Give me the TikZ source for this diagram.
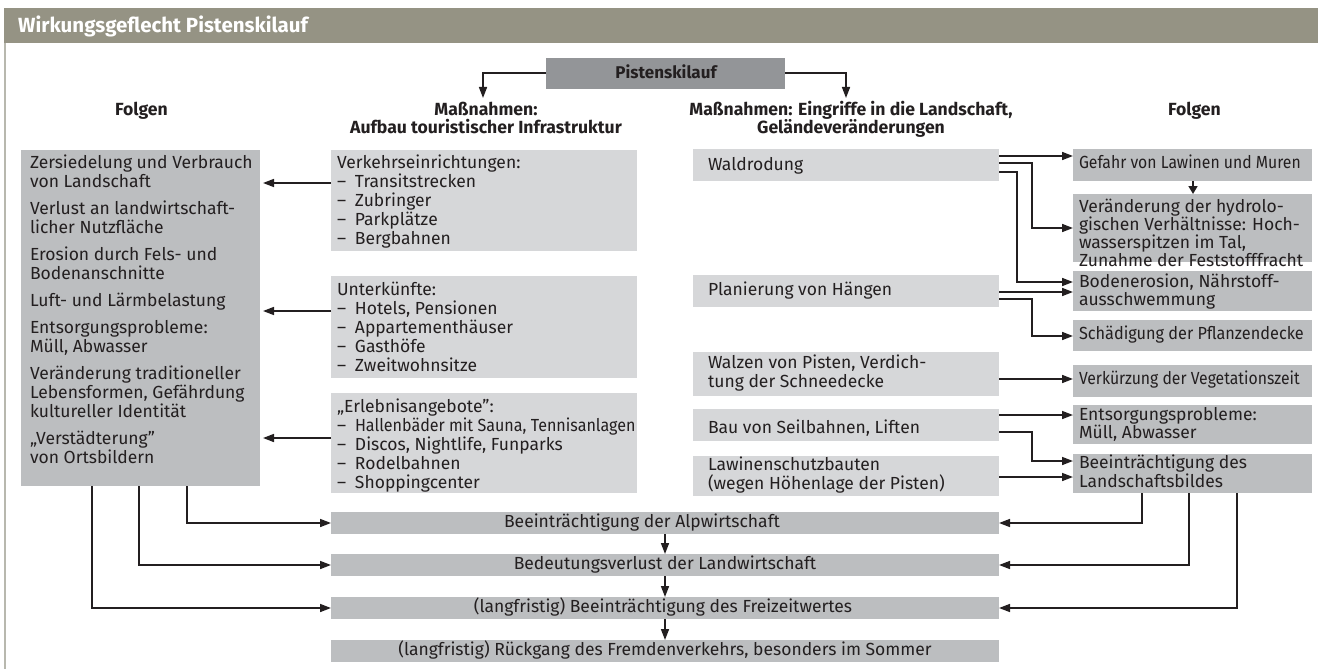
\documentclass[tikz,border=0pt]{standalone}
\usepackage{fontspec}
\setmainfont{Fira Sans}
\usetikzlibrary{arrows.meta}
\definecolor{ink}{HTML}{231F20}
\definecolor{hdr}{HTML}{959384}
\definecolor{psk}{HTML}{939598}
\definecolor{midg}{HTML}{BCBEC0}
\definecolor{liteg}{HTML}{D6D7D9}
\definecolor{framec}{HTML}{B8B8AE}
\newcommand\bodyf{\fontsize{17.5bp}{19bp}\selectfont}
\newcommand\headf{\bfseries\fontsize{17.6bp}{17bp}\selectfont}
\newcommand\psf{\bfseries\fontsize{17bp}{19bp}\selectfont}
\newcommand\titlef{\bfseries\fontsize{20.5bp}{24bp}\selectfont}
\newcommand\dsh{\makebox[18bp][l]{–}}
\tikzset{
 box/.style={inner sep=0, outer sep=0, anchor=north west, draw=none},
 sz/.style 2 args={minimum width=#1bp, minimum height=#2bp},
 dk/.style={box, fill=midg},
 lt/.style={box, fill=liteg},
 txt/.style={inner sep=0, outer sep=0, anchor=base west, text=ink, font=\bodyf},
 ctxt/.style={txt, anchor=base},
 headn/.style={inner sep=0, outer sep=0, anchor=base, text=ink, font=\headf},
 arr/.style={draw=ink, line width=1.6bp, -{Triangle[length=11bp,width=8bp]}},
}
\begin{document}
\begin{tikzpicture}[x=1bp,y=-1bp]
\useasboundingbox (0,0) rectangle (1318,669);
% header
\node[box, fill=hdr, sz={1314}{35}] (hd) at (4,8) {};
\draw[framec, line width=2bp] ([xshift=1bp]hd.south west) -- ([xshift=1bp]hd.south west |- 0,669);
\node[anchor=base west, inner sep=0, text=white, font=\titlef] (ttl) at (18,33) {Wirkungsgeflecht Pistenskilauf};
% top
\node[box, fill=psk, sz={239}{31}] (PS) at (546,58) {};
\node[headn, font=\psf] (PSt) at (666,79) {Pistenskilauf};
\coordinate (tl) at (483,98);
\coordinate (tr) at (846,98);
\draw[arr] (PS.west |- 0,73) -| (tl);
\draw[arr] (PS.east |- 0,73) -| (tr);
% headings
\node[headn] (h1) at (141.5,116) {Folgen};
\node[headn] (h2a) at (486,116) {Maßnahmen:};
\node[headn] (h2b) at (486,133) {Aufbau touristischer Infrastruktur};
\node[headn] (h3a) at (851,116) {Maßnahmen: Eingriffe in die Landschaft,};
\node[headn] (h3b) at (851,133) {Geländeveränderungen};
\node[headn] (h4) at (1194.5,116) {Folgen};
% boxes
\node[dk, sz={239}{336}] (L) at (21,150) {};
\node[lt, sz={306}{101}] (M1) at (331,150) {};
\node[lt, sz={306}{102}] (M2) at (331,276) {};
\node[lt, sz={306}{100}] (M3) at (331,393) {};
\node[lt, sz={306}{32}] (W) at (693,149) {};
\node[lt, sz={306}{32}] (P) at (693,275) {};
\node[lt, sz={306}{44}] (Wz) at (693,352) {};
\node[lt, sz={306}{32}] (Bs) at (693,409) {};
\node[lt, sz={306}{40}] (Lw) at (693,456) {};
\node[dk, sz={239}{32}] (G) at (1073,149) {};
\node[dk, sz={239}{68}] (H) at (1073,194) {};
\node[dk, sz={239}{40}] (B) at (1073,271) {};
\node[dk, sz={239}{31}] (S) at (1073,320) {};
\node[dk, sz={239}{32}] (V) at (1073,365) {};
\node[dk, sz={239}{39}] (E) at (1073,405) {};
\node[dk, sz={239}{39}] (Bl) at (1073,454) {};
\node[dk, sz={668}{22}] (A1) at (331,512) {};
\node[dk, sz={668}{22}] (A2) at (331,554) {};
\node[dk, sz={668}{22}] (A3) at (331,597) {};
\node[dk, sz={668}{22}] (A4) at (331,640) {};
% texts
\node[txt] (Lt) at (30,168) {\parbox[t]{228bp}{Zersiedelung und Verbrauch\\von Landschaft\\[8bp]Verlust an landwirtschaft-\\licher Nutzfläche\\[8bp]Erosion durch Fels- und\\Bodenanschnitte\\[8bp]Luft- und Lärmbelastung\\[8bp]Entsorgungsprobleme:\\Müll, Abwasser\\[8bp]Veränderung traditioneller\\Lebensformen, Gefährdung\\kultureller Identität\\[8bp]„Verstädterung”\\von Ortsbildern}};
\node[txt] (M1t) at (337,168) {\parbox[t]{295bp}{Verkehrseinrichtungen:\\\dsh Transitstrecken\\\dsh Zubringer\\\dsh Parkplätze\\\dsh Bergbahnen}};
\node[txt] (M2t) at (337,295) {\parbox[t]{295bp}{Unterkünfte:\\\dsh Hotels, Pensionen\\\dsh Appartementhäuser\\\dsh Gasthöfe\\\dsh Zweitwohnsitze}};
\node[txt] (M3t) at (337,412) {\parbox[t]{300bp}{„Erlebnisangebote”:\\\dsh \scalebox{0.92}[1]{Hallenbäder mit Sauna, Tennisanlagen}\\\dsh Discos, Nightlife, Funparks\\\dsh Rodelbahnen\\\dsh Shoppingcenter}};
\node[txt] (Wt) at (708,170) {Waldrodung};
\node[txt] (Pt) at (708,295) {Planierung von Hängen};
\node[txt] (Wzt) at (708,368) {\parbox[t]{280bp}{Walzen von Pisten, Verdich-\\tung der Schneedecke}};
\node[txt] (Bst) at (708,433) {Bau von Seilbahnen, Liften};
\node[txt] (Lwt) at (708,470) {\parbox[t]{280bp}{Lawinenschutzbauten\\(wegen Höhenlage der Pisten)}};
\node[txt] (Gt) at (1079,168) {\scalebox{0.9}[1]{Gefahr von Lawinen und Muren}};
\node[txt] (Ht) at (1079,212) {\parbox[t]{232bp}{\baselineskip=16bp Veränderung der hydrolo-\\gischen Verhältnisse: Hoch-\\wasserspitzen im Tal,\\Zunahme der Feststofffracht}};
\node[txt] (Bt) at (1079,287) {\parbox[t]{232bp}{\baselineskip=18bp Bodenerosion, Nährstoff-\\ausschwemmung}};
\node[txt] (St) at (1079,339) {\scalebox{0.93}[1]{Schädigung der Pflanzendecke}};
\node[txt] (Vt) at (1079,384) {\scalebox{0.9}[1]{Verkürzung der Vegetationszeit}};
\node[txt] (Et) at (1079,420) {\parbox[t]{232bp}{\baselineskip=18bp Entsorgungsprobleme:\\Müll, Abwasser}};
\node[txt] (Blt) at (1079,468) {\parbox[t]{232bp}{Beeinträchtigung des\\Landschaftsbildes}};
\node[ctxt] (A1t) at (642,527) {Beeinträchtigung der Alpwirtschaft};
\node[ctxt] (A2t) at (665,569) {Bedeutungsverlust der Landwirtschaft};
\node[ctxt] (A3t) at (663,612) {(langfristig) Beeinträchtigung des Freizeitwertes};
\node[ctxt] (A4t) at (665,655) {(langfristig) Rückgang des Fremdenverkehrs, besonders im Sommer};
% connectors middle -> left
\draw[arr, shorten >=3bp] (M1.west |- 0,183) -- (L.east |- 0,183);
\draw[arr, shorten >=3bp] (M2.west |- 0,311) -- (L.east |- 0,311);
\draw[arr, shorten >=3bp] (M3.west |- 0,438) -- (L.east |- 0,438);
% right side
\draw[arr] (W.east |- 0,156) -- (G.west |- 0,156);
\draw[arr] (W.east |- 0,163) -| (1032,228) -- (H.west |- 0,228);
\draw[arr] (W.east |- 0,172) -| (1017,282) -- (B.west |- 0,282);
\draw[arr] (P.east |- 0,292) -- (B.west |- 0,292);
\draw[arr] (P.east |- 0,299) -| (1032,336) -- (S.west |- 0,336);
\draw[arr] (Wz.east |- 0,379) -- (V.west |- 0,379);
\draw[arr] (Bs.east |- 0,415) -- (E.west |- 0,415);
\draw[arr] (Bs.east |- 0,432) -| (1032,461) -- (Bl.west |- 0,461);
\draw[arr] (Lw.east |- 0,477) -- (Bl.west |- 0,477);
\draw[arr, -{Triangle[length=8bp,width=9bp]}] (G.south -| 1193,0) -- (H.north -| 1193,0);
% bottom
\draw[arr] (L.south -| 187,0) |- (A1.west);
\draw[arr] (L.south -| 139,0) |- (A2.west);
\draw[arr] (L.south -| 92,0) |- (A3.west);
\draw[arr] (Bl.south -| 1142,0) |- (A1.east);
\draw[arr] (Bl.south -| 1189,0) |- (A2.east);
\draw[arr] (Bl.south -| 1237,0) |- (A3.east);
\draw[arr] (A1.south -| 665,0) -- (A2.north -| 665,0);
\draw[arr] (A2.south -| 665,0) -- (A3.north -| 665,0);
\draw[arr] (A3.south -| 665,0) -- (A4.north -| 665,0);
\end{tikzpicture}
\end{document}
